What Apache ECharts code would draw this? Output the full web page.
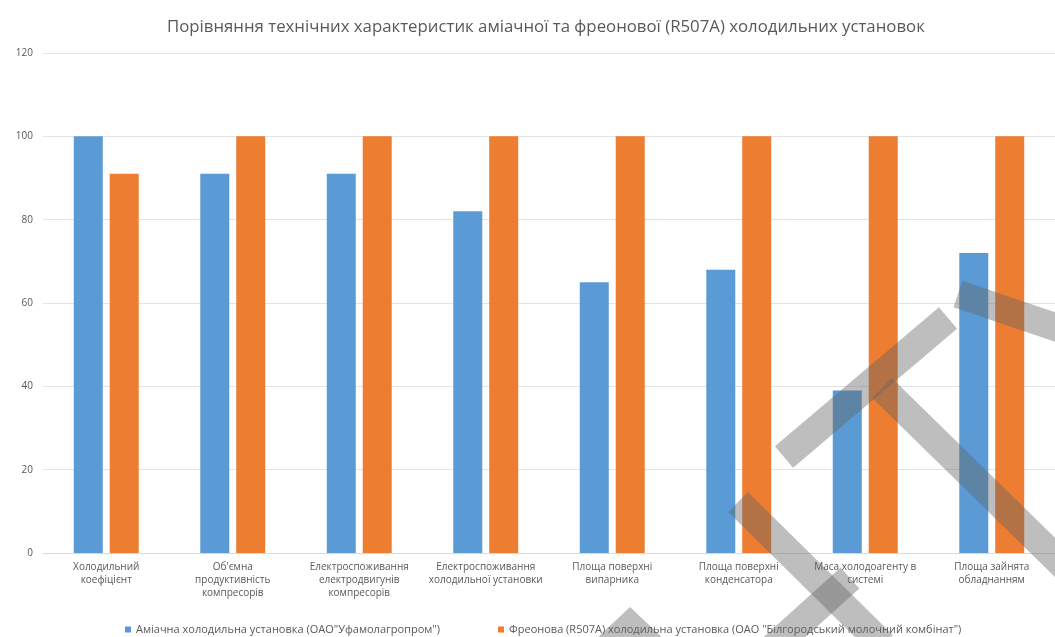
<!DOCTYPE html>
<html>
<head>
<meta charset="utf-8">
<style>
  html, body { margin: 0; padding: 0; background: #ffffff; }
  #chart { width: 1055px; height: 637px; }
</style>
<script src="https://cdn.jsdelivr.net/npm/echarts@6/dist/echarts.min.js"></script>
</head>
<body>
<div id="chart"></div>
<script>
// Categories (line breaks as they wrap under the axis)
const categories = [
  'Холодильний\nкоефіцієнт',
  "Об'ємна\nпродуктивність\nкомпресорів",
  'Електроспоживання\nелектродвигунів\nкомпресорів',
  'Електроспоживання\nхолодильної установки',
  'Площа поверхні\nвипарника',
  'Площа поверхні\nконденсатора',
  'Маса холодоагенту в\nсистемі',
  'Площа зайнята\nобладнанням'
];

const ammoniaName = 'Аміачна холодильна установка (ОАО"Уфамолагропром")';
const freonName = 'Фреонова (R507A) холодильна установка (ОАО "Білгородський молочний комбінат")';

const ammoniaValues = [100, 91, 91, 82, 65, 68, 39, 72];
const freonValues = [91, 100, 100, 100, 100, 100, 100, 100];

const yTicks = { min: 0, max: 120, interval: 20 };

const FONT = '"Open Sans", sans-serif';
const TEXT = '#595959';

// Grey translucent overlay strokes drawn on top of the plot
const overlayStroke = { stroke: 'rgba(100,100,100,0.42)', lineWidth: 28, lineCap: 'butt', fill: null };
const overlayLines = [
  [[958, 294], [1070, 332]],
  [[948, 318], [784, 457]],
  [[882, 388], [1070, 572]],
  [[738, 502], [883, 645]],
  [[768, 652], [850, 578]]
];

const chart = echarts.init(document.getElementById('chart'), null, { renderer: 'canvas' });

chart.setOption({
  backgroundColor: '#ffffff',
  animation: false,
  title: {
    text: 'Порівняння технічних характеристик аміачної та фреонової (R507A) холодильних установок',
    left: 162,
    top: 14,
    textStyle: { fontFamily: FONT, fontSize: 16.8, fontWeight: 'normal', color: TEXT }
  },
  legend: {
    top: 624,
    left: 125,
    padding: 0,
    itemWidth: 6,
    itemHeight: 6,
    itemGap: 58,
    icon: 'rect',
    textStyle: { fontFamily: FONT, fontSize: 11, color: TEXT }
  },
  grid: { left: 43, width: 1023, top: 53, bottom: 84, containLabel: false },
  xAxis: {
    type: 'category',
    data: categories,
    axisLine: { lineStyle: { color: '#d9d9d9' } },
    axisTick: { show: false },
    axisLabel: {
      interval: 0,
      margin: 8,
      fontFamily: FONT,
      fontSize: 10,
      lineHeight: 13,
      color: TEXT
    }
  },
  yAxis: {
    type: 'value',
    min: yTicks.min,
    max: yTicks.max,
    interval: yTicks.interval,
    axisLine: { show: false },
    axisTick: { show: false },
    axisLabel: { margin: 10, fontFamily: FONT, fontSize: 10, color: TEXT },
    splitLine: { lineStyle: { color: '#e3e3e3' } }
  },
  series: [
    {
      name: ammoniaName,
      type: 'bar',
      data: ammoniaValues,
      barWidth: 29,
      barGap: '24%',
      itemStyle: { color: '#5b9bd5' }
    },
    {
      name: freonName,
      type: 'bar',
      data: freonValues,
      barWidth: 29,
      itemStyle: { color: '#ed7d31' }
    }
  ],
  graphic: overlayLines.map(pts => ({
    type: 'polyline',
    silent: true,
    z: 100,
    shape: { points: pts },
    style: overlayStroke
  })).concat([{
    type: 'polygon',
    silent: true,
    z: 100,
    shape: { points: [[630, 607], [594, 641], [666, 641]] },
    style: { fill: 'rgba(100,100,100,0.42)' }
  }])
});
</script>
</body>
</html>
